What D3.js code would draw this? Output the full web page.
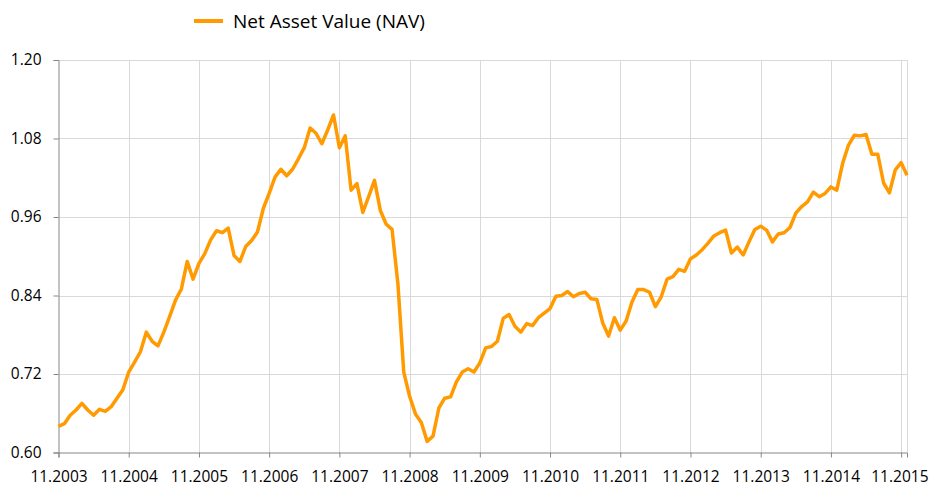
<!DOCTYPE html>
<html>
<head>
<meta charset="utf-8">
<script src="https://cdn.jsdelivr.net/npm/d3@7"></script>
<style>
  body { margin: 0; background: #fff; }
  svg text { font-family: "Open Sans", "Noto Sans", sans-serif; fill: #000; }
</style>
</head>
<body>
<div id="chart"></div>
<script>
// monthly NAV, 11.2003 .. 12.2015
const seriesName = 'Net Asset Value (NAV)';
const navValues = [
  0.640, 0.644, 0.657, 0.665, 0.675, 0.665, 0.657, 0.666, 0.663, 0.670, 0.683, 0.696,
  0.723, 0.738, 0.754, 0.784, 0.770, 0.763, 0.784, 0.808, 0.833, 0.850, 0.892, 0.865,
  0.889, 0.904, 0.925, 0.939, 0.936, 0.943, 0.901, 0.892, 0.915, 0.924, 0.937, 0.973,
  0.996, 1.021, 1.033, 1.023, 1.033, 1.049, 1.066, 1.096, 1.088, 1.072, 1.093, 1.116,
  1.066, 1.084, 1.001, 1.011, 0.967, 0.991, 1.016, 0.970, 0.949, 0.941, 0.858, 0.723,
  0.686, 0.659, 0.646, 0.617, 0.625, 0.668, 0.683, 0.685, 0.708, 0.723, 0.728, 0.723,
  0.737, 0.760, 0.762, 0.770, 0.805, 0.811, 0.793, 0.784, 0.797, 0.794, 0.806, 0.813,
  0.820, 0.839, 0.840, 0.846, 0.838, 0.843, 0.845, 0.835, 0.834, 0.798, 0.778, 0.806,
  0.787, 0.801, 0.830, 0.849, 0.849, 0.845, 0.823, 0.838, 0.865, 0.869, 0.880, 0.877,
  0.896, 0.902, 0.910, 0.920, 0.931, 0.936, 0.940, 0.905, 0.914, 0.902, 0.922, 0.941,
  0.946, 0.940, 0.922, 0.934, 0.936, 0.944, 0.966, 0.976, 0.983, 0.998, 0.991, 0.996,
  1.006, 1.001, 1.042, 1.070, 1.085, 1.084, 1.086, 1.056, 1.056, 1.012, 0.997, 1.032,
  1.043, 1.024
];
const xTickLabels = ['11.2003', '11.2004', '11.2005', '11.2006', '11.2007', '11.2008', '11.2009',
  '11.2010', '11.2011', '11.2012', '11.2013', '11.2014', '11.2015'];
const yTicks = [0.60, 0.72, 0.84, 0.96, 1.08, 1.20];

const width = 929, height = 488;
const plot = {left: 58.5, right: 907, top: 60, bottom: 452.5};

const svg = d3.select('#chart').append('svg')
  .attr('width', width)
  .attr('height', height);

const x = d3.scaleLinear()
  .domain([0, navValues.length - 1])
  .range([plot.left, plot.right]);

const y = d3.scaleLinear()
  .domain([0.6, 1.2])
  .range([plot.bottom, plot.top]);

const xTickIdx = xTickLabels.map((d, i) => i * 12);

// MARK: - grid

svg.append('g').selectAll('line.h')
  .data(yTicks.slice(1))
  .join('line')
  .attr('x1', plot.left).attr('x2', plot.right)
  .attr('y1', d => Math.round(y(d)) + 0.5).attr('y2', d => Math.round(y(d)) + 0.5)
  .attr('stroke', '#d9d9d9').attr('stroke-width', 1);

svg.append('g').selectAll('line.v')
  .data(xTickIdx.slice(1).concat([navValues.length - 1]))
  .join('line')
  .attr('x1', d => Math.round(x(d)) + 0.5).attr('x2', d => Math.round(x(d)) + 0.5)
  .attr('y1', plot.top).attr('y2', plot.bottom)
  .attr('stroke', '#d9d9d9').attr('stroke-width', 1);

// MARK: - axes

const yAxis = svg.append('g')
  .attr('transform', `translate(${plot.left},0)`)
  .call(d3.axisLeft(y).tickValues(yTicks).tickFormat(d3.format('.2f')).tickSize(5).tickPadding(12));
yAxis.select('.domain').attr('stroke', '#868686');
yAxis.selectAll('.tick line').attr('stroke', '#868686');
yAxis.selectAll('text').attr('font-size', 15.5).attr('fill', '#000');

const xAxis = svg.append('g')
  .attr('transform', `translate(0,${plot.bottom})`)
  .call(d3.axisBottom(x).tickValues(xTickIdx).tickFormat((d, i) => xTickLabels[i]).tickSize(5).tickPadding(13));
xAxis.select('.domain').attr('stroke', '#868686');
xAxis.selectAll('.tick line').attr('stroke', '#868686');
xAxis.selectAll('text').attr('font-size', 15.5).attr('fill', '#000');
// keep the last label inside the frame
xAxis.selectAll('.tick text').filter((d, i, n) => i === n.length - 1)
  .attr('text-anchor', 'end')
  .attr('x', width - 1 - x(xTickIdx[xTickIdx.length - 1]));

// MARK: - series

const line = d3.line()
  .x((d, i) => x(i))
  .y(d => y(d));

svg.append('path')
  .datum(navValues)
  .attr('fill', 'none')
  .attr('stroke', '#ff9a00')
  .attr('stroke-width', 3.5)
  .attr('stroke-linejoin', 'round')
  .attr('d', line);

// MARK: - legend

const legend = svg.append('g').attr('transform', 'translate(194,21)');
legend.append('line')
  .attr('x1', 0).attr('x2', 29)
  .attr('y1', 0).attr('y2', 0)
  .attr('stroke', '#ff9a00').attr('stroke-width', 4);
legend.append('text')
  .attr('x', 39).attr('y', 0)
  .attr('dy', '0.35em')
  .attr('font-size', 19)
  .text(seriesName);
</script>
</body>
</html>
